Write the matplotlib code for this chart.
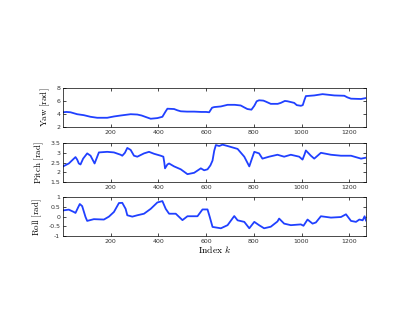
import matplotlib.pyplot as plt
import numpy as np

plt.rcParams['mathtext.fontset'] = 'cm'

# values (index k, value)
yaw_k = [1, 15, 32, 60, 88, 116, 144, 186, 214, 242, 284, 312, 330, 345, 368, 396, 417, 430, 438,
         466, 480, 494, 520, 550, 580, 600, 613, 625, 634, 662, 690, 720, 745, 760, 773, 790, 802, 812,
         822, 840, 850, 871, 900, 913, 930, 941, 969, 980, 997, 1005, 1012, 1018, 1053, 1088, 1137,
         1179, 1192, 1207, 1249, 1270]
yaw = [4.3, 4.35, 4.3, 4.0, 3.85, 3.6, 3.45, 3.45, 3.65, 3.8, 4.0, 3.95, 3.8, 3.6, 3.3, 3.4, 3.6, 4.4, 4.85,
       4.8, 4.6, 4.45, 4.4, 4.4, 4.35, 4.35, 4.3, 5.0, 5.1, 5.2, 5.45, 5.45, 5.35, 5.05, 4.8, 4.7, 5.3, 6.0,
       6.15, 6.1, 5.95, 5.6, 5.6, 5.75, 6.05, 6.0, 5.75, 5.4, 5.3, 5.4, 6.2, 6.8, 6.9, 7.1, 6.9,
       6.85, 6.6, 6.4, 6.35, 6.5]

pitch_k = [1, 25, 53, 60, 67, 74, 85, 102, 116, 133, 151, 186, 214, 242, 249, 260, 270, 284,
           298, 312, 340, 361, 382, 410, 421, 425, 428, 438, 445, 466, 494, 522, 550, 578, 592,
           606, 618, 627, 634, 641, 655, 669, 690, 732, 760, 781, 792, 802, 822, 836, 864,
           899, 927, 955, 990, 1004, 1012, 1018, 1039, 1053, 1081, 1123, 1165, 1207, 1249, 1270]
pitch = [2.3, 2.45, 2.78, 2.65, 2.45, 2.4, 2.7, 2.97, 2.85, 2.45, 3.02, 3.05, 3.02, 2.9, 2.85, 3.0, 3.25, 3.15,
         2.85, 2.8, 2.97, 3.05, 2.95, 2.85, 2.8, 2.5, 2.2, 2.4, 2.45, 2.3, 2.15, 1.9, 1.97, 2.2, 2.1,
         2.15, 2.35, 2.6, 3.1, 3.4, 3.35, 3.42, 3.35, 3.2, 2.8, 2.3, 2.7, 3.05, 2.97, 2.7, 2.8,
         2.9, 2.8, 2.9, 2.8, 2.65, 2.9, 3.12, 2.85, 2.7, 3.0, 2.9, 2.85, 2.85, 2.7, 2.75]

roll_k = [1, 25, 46, 53, 63, 71, 81, 95, 102, 130, 172, 193, 214, 235, 249, 263, 270, 291,
          312, 340, 368, 396, 417, 431, 445, 473, 501, 522, 564, 585, 606, 615, 627, 662, 690,
          718, 732, 760, 781, 802, 822, 843, 871, 899, 906, 927, 955, 997, 1008, 1025, 1046,
          1060, 1081, 1123, 1165, 1186, 1207, 1228, 1242, 1256, 1264, 1270]
roll = [0.32, 0.36, 0.24, 0.19, 0.45, 0.65, 0.54, -0.02, -0.22, -0.13, -0.15, 0.0, 0.24, 0.7, 0.71, 0.4, 0.07, 0.0,
        0.07, 0.15, 0.4, 0.73, 0.8, 0.4, 0.15, 0.15, -0.18, 0.02, 0.02, 0.37, 0.37, 0.0, -0.53, -0.6, -0.44,
        0.03, -0.19, -0.27, -0.6, -0.27, -0.44, -0.6, -0.52, -0.25, -0.1, -0.36, -0.44, -0.4, -0.47, -0.15, -0.36,
        -0.3, 0.02, -0.05, -0.02, 0.12, -0.22, -0.27, -0.15, -0.19, 0.02, -0.2]

panels = [
    (yaw_k, yaw, r'$\mathrm{Yaw\ [rad]}$', (2, 8), [2, 4, 6, 8]),
    (pitch_k, pitch, r'$\mathrm{Pitch\ [rad]}$', (1.5, 3.5), [1.5, 2, 2.5, 3, 3.5]),
    (roll_k, roll, r'$\mathrm{Roll\ [rad]}$', (-1, 1), [-1, -0.5, 0, 0.5, 1]),
]
bottoms = [0.617, 0.452, 0.289]

fig = plt.figure(figsize=(4.15, 3.32), dpi=100)

for (k, v, lab, ylim, yt), b in zip(panels, bottoms):
    ax = fig.add_axes([0.152, b, 0.730, 0.117])
    ax.plot(k, v, color='#2040ff', lw=1.3)
    ax.set_xlim(1, 1270)
    ax.set_ylim(*ylim)
    ax.set_xticks([200, 400, 600, 800, 1000, 1200])
    ax.set_yticks(yt)
    ax.set_yticklabels([('%g' % t) for t in yt])
    ax.tick_params(direction='in', length=2, width=0.5, labelsize=4.5,
                   top=True, right=True, pad=2, labelcolor='#333333')
    ax.set_ylabel(lab, fontsize=6.5, labelpad=3)
    for s in ax.spines.values():
        s.set_linewidth(0.5)

ax.set_xlabel(r'$\mathrm{Index}\ k$', fontsize=7, labelpad=0)

plt.savefig('out.png', dpi=100)
